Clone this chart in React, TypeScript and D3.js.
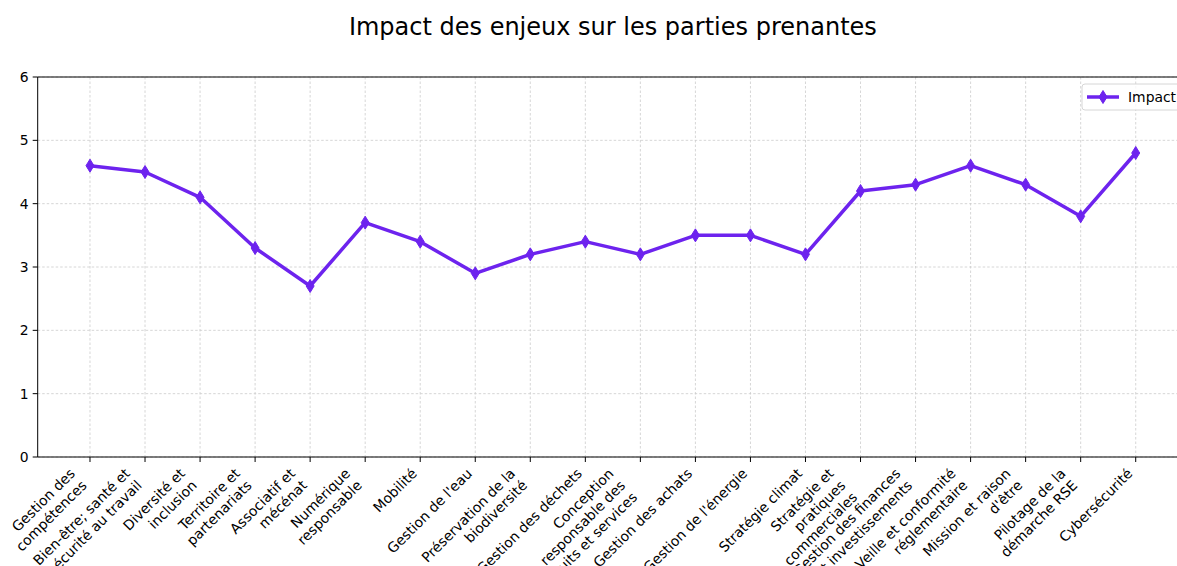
import React from "react";
import * as d3 from "d3";

const categories: string[][] = [
  ["Gestion des", "compétences"],
  ["Bien-être; santé et", "sécurité au travail"],
  ["Diversité et", "inclusion"],
  ["Territoire et", "partenariats"],
  ["Associatif et", "mécénat"],
  ["Numérique", "responsable"],
  ["Mobilité"],
  ["Gestion de l'eau"],
  ["Préservation de la", "biodiversité"],
  ["Gestion des déchets"],
  ["Conception", "responsable des", "produits et services"],
  ["Gestion des achats"],
  ["Gestion de l'énergie"],
  ["Stratégie climat"],
  ["Stratégie et", "pratiques", "commerciales"],
  ["Gestion des finances", "et investissements"],
  ["Veille et conformité", "réglementaire"],
  ["Mission et raison", "d'être"],
  ["Pilotage de la", "démarche RSE"],
  ["Cybersécurité"],
];

const impactValues: number[] = [
  4.6, 4.5, 4.1, 3.3, 2.7, 3.7, 3.4, 2.9, 3.2, 3.4,
  3.2, 3.5, 3.5, 3.2, 4.2, 4.3, 4.6, 4.3, 3.8, 4.8,
];

const yTicks: number[] = [0, 1, 2, 3, 4, 5, 6];

const seriesName = "Impact";
const title = "Impact des enjeux sur les parties prenantes";

export default function App() {
  const W = 1177;
  const H = 566;
  const left = 37.7;
  const right = 1188;
  const top = 77;
  const bottom = 457;
  const color = "#6d23ee";
  const font = "'DejaVu Sans', sans-serif";
  const fs = 13.9;
  const n = categories.length;

  const x = d3.scaleLinear().domain([-0.95, n - 1 + 0.95]).range([left, right]);
  const y = d3.scaleLinear().domain([0, 6]).range([bottom, top]);

  const line = d3
    .line<number>()
    .x((_, i) => x(i))
    .y((d) => y(d));

  const diamond = (cx: number, cy: number) => {
    const hw = 4;
    const hh = 6.5;
    return `M${cx},${cy - hh}L${cx + hw},${cy}L${cx},${cy + hh}L${cx - hw},${cy}Z`;
  };

  const c = Math.SQRT1_2;
  const lh = fs * 1.2;
  const ascent = fs * 0.76;
  const descent = fs * 0.24;
  const pad = 10;

  return (
    <svg width={W} height={H} style={{ position: "absolute", left: 0, top: 0, background: "#fff" }}>
      <rect x={0} y={0} width={W} height={H} fill="#fff" />
      <text x={(left + right) / 2} y={35} textAnchor="middle" fontFamily={font} fontSize={24} fill="#000">
        {title}
      </text>
      {/* grid */}
      <g stroke="#cccccc" strokeWidth={0.8} strokeDasharray="2.5,2">
        {categories.map((_, i) => (
          <line key={"gx" + i} x1={x(i)} x2={x(i)} y1={top} y2={bottom} />
        ))}
        {yTicks.map((t) => (
          <line key={"gy" + t} x1={left} x2={right} y1={y(t)} y2={y(t)} />
        ))}
      </g>
      {/* spines */}
      <g stroke="#000" strokeWidth={1} fill="none">
        <line x1={left} x2={left} y1={top} y2={bottom} />
        <line x1={left} x2={right} y1={bottom} y2={bottom} />
        <line x1={left} x2={right} y1={top} y2={top} />
        <line x1={right} x2={right} y1={top} y2={bottom} />
      </g>
      {/* y ticks */}
      {yTicks.map((t) => (
        <g key={"yt" + t}>
          <line x1={left - 5} x2={left} y1={y(t)} y2={y(t)} stroke="#000" strokeWidth={1} />
          <text x={left - 9} y={y(t)} dy="0.36em" textAnchor="end" fontFamily={font} fontSize={fs} fill="#000">
            {t}
          </text>
        </g>
      ))}
      {/* x ticks */}
      {categories.map((lines, i) => {
        const k = lines.length;
        const bot = (k - 1) * lh + descent;
        const tp = -ascent;
        const tx = x(i) - bot * c;
        const ty = bottom + pad - tp * c;
        return (
          <g key={"xt" + i}>
            <line x1={x(i)} x2={x(i)} y1={bottom} y2={bottom + 5} stroke="#000" strokeWidth={1} />
            <g transform={`translate(${tx},${ty}) rotate(-45)`}>
              {lines.map((s, j) => (
                <text key={j} x={0} y={j * lh} textAnchor="end" fontFamily={font} fontSize={fs} fill="#000">
                  {s}
                </text>
              ))}
            </g>
          </g>
        );
      })}
      {/* series */}
      <path d={line(impactValues) || ""} fill="none" stroke={color} strokeWidth={3.5} strokeLinejoin="round" />
      {impactValues.map((v, i) => (
        <path key={"m" + i} d={diamond(x(i), y(v))} fill={color} stroke={color} strokeWidth={1} />
      ))}
      {/* legend */}
      <g>
        <rect x={1082} y={84} width={120} height={26} rx={3} fill="#fff" fillOpacity={0.8} stroke="#d6d6d6" strokeWidth={1} />
        <line x1={1087} x2={1119} y1={97} y2={97} stroke={color} strokeWidth={3.5} />
        <path d={diamond(1103, 97)} fill={color} stroke={color} strokeWidth={1} />
        <text x={1128} y={97} dy="0.36em" fontFamily={font} fontSize={fs} fill="#000">
          {seriesName}
        </text>
      </g>
    </svg>
  );
}
